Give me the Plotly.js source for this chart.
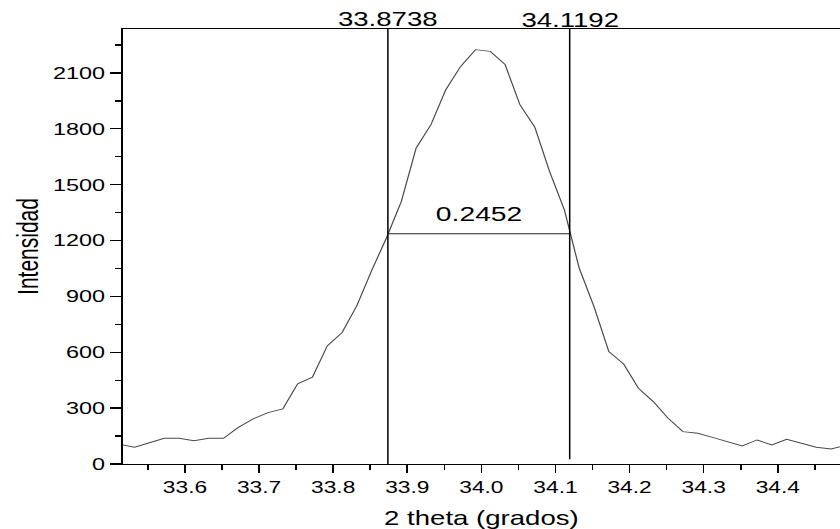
<!DOCTYPE html>
<html>
<head>
<meta charset="utf-8">
<script src="https://cdn.plot.ly/plotly-3.0.1.min.js"></script>
<style>
  html, body { margin: 0; padding: 0; overflow: hidden; background: #ffffff; }
  #chart { width: 609px; height: 529px; transform: scaleX(1.3793); transform-origin: 0 0; }
</style>
</head>
<body>
<div id="chart"></div>
<script>
// 2 theta (degrees) sample positions
const twoTheta = [
  33.512, 33.532, 33.552, 33.572, 33.592, 33.612, 33.632, 33.652, 33.672, 33.692,
  33.712, 33.732, 33.752, 33.772, 33.792, 33.812, 33.832, 33.852, 33.872, 33.892,
  33.912, 33.932, 33.952, 33.972, 33.992, 34.012, 34.032, 34.052, 34.072, 34.092,
  34.112, 34.132, 34.152, 34.172, 34.192, 34.212, 34.232, 34.252, 34.272, 34.292,
  34.312, 34.332, 34.352, 34.372, 34.392, 34.412, 34.432, 34.452, 34.472, 34.492
];
// Intensity values
const intensidad = [
  106, 90, 114, 138, 138, 125, 138, 138, 197, 242,
  276, 296, 430, 466, 634, 706, 850, 1040, 1215, 1410,
  1697, 1822, 2010, 2135, 2225, 2216, 2145, 1930, 1810, 1571,
  1365, 1052, 845, 604, 537, 407, 335, 246, 174, 165,
  143, 120, 97, 129, 102, 133, 111, 90, 81, 100
];
// FWHM markers
const fwhmLeft = 33.8738;
const fwhmRight = 34.1192;
const fwhmLabel = "0.2452";
const halfMax = 1236;
const leftLabel = "33.8738";
const rightLabel = "34.1192";
const yTop = 2336;
const rightLineBottom = 25;
// Axis ticks
const yTickVals = [0, 300, 600, 900, 1200, 1500, 1800, 2100];
const xTickVals = [33.6, 33.7, 33.8, 33.9, 34.0, 34.1, 34.2, 34.3, 34.4];
const xTickText = ["33.6", "33.7", "33.8", "33.9", "34.0", "34.1", "34.2", "34.3", "34.4"];

const FONT = "Liberation Sans, Arial, sans-serif";

const traces = [
  {
    x: twoTheta, y: intensidad, type: "scatter", mode: "lines",
    line: { color: "#4a4a4a", width: 0.9 }, hoverinfo: "skip", showlegend: false
  },
  {
    x: [fwhmLeft, fwhmLeft], y: [0, yTop], type: "scatter", mode: "lines",
    line: { color: "#000000", width: 1.1 }, hoverinfo: "skip", showlegend: false
  },
  {
    x: [fwhmRight, fwhmRight], y: [rightLineBottom, yTop], type: "scatter", mode: "lines",
    line: { color: "#000000", width: 1.1 }, hoverinfo: "skip", showlegend: false
  },
  {
    x: [fwhmLeft, fwhmRight], y: [halfMax, halfMax], type: "scatter", mode: "lines",
    line: { color: "#222222", width: 1 }, hoverinfo: "skip", showlegend: false
  }
];

const layout = {
  width: 609, height: 529,
  margin: { l: 89, r: 0, t: 29, b: 65, pad: 0 },
  paper_bgcolor: "#ffffff", plot_bgcolor: "#ffffff",
  font: { family: FONT, color: "#000000" },
  showlegend: false,
  xaxis: {
    range: [33.516, 34.484],
    tickvals: xTickVals, ticktext: xTickText,
    ticks: "outside", ticklen: 8, tickwidth: 1.2, tickcolor: "#000",
    minor: { dtick: 0.05, tick0: 33.55, ticks: "outside", ticklen: 4.5, tickwidth: 1.2, tickcolor: "#000" },
    showline: true, linecolor: "#000", linewidth: 1.4, mirror: true,
    showgrid: false, zeroline: false,
    tickfont: { family: FONT, size: 16.5, color: "#000" },
    title: { text: "2 theta (grados)", font: { family: FONT, size: 20, color: "#000" }, standoff: 17 }
  },
  yaxis: {
    range: [0, yTop],
    tickvals: yTickVals,
    ticks: "outside", ticklen: 8, tickwidth: 1.3, tickcolor: "#000",
    minor: { dtick: 150, tick0: 150, ticks: "outside", ticklen: 4.5, tickwidth: 1.3, tickcolor: "#000" },
    showline: true, linecolor: "#000", linewidth: 1.45, mirror: false,
    showgrid: false, zeroline: false,
    tickfont: { family: FONT, size: 17, color: "#000" },
    ticklabelstandoff: 0,
    title: { text: "Intensidad", font: { family: FONT, size: 21, color: "#000" }, standoff: 4 }
  },
  annotations: [
    { x: fwhmLeft, y: 1, xref: "x", yref: "paper", text: leftLabel, showarrow: false,
      xanchor: "center", yanchor: "middle", yshift: 10, font: { family: FONT, size: 20, color: "#000" } },
    { x: fwhmRight, y: 1, xref: "x", yref: "paper", text: rightLabel, showarrow: false,
      xanchor: "center", yanchor: "middle", yshift: 9, font: { family: FONT, size: 20, color: "#000" } },
    { x: (fwhmLeft + fwhmRight) / 2, y: halfMax, xref: "x", yref: "y", text: fwhmLabel, showarrow: false,
      xanchor: "center", yanchor: "bottom", yshift: 7, font: { family: FONT, size: 20.5, color: "#000" } }
  ]
};

Plotly.newPlot("chart", traces, layout, { staticPlot: true, displayModeBar: false, responsive: false });
</script>
</body>
</html>
